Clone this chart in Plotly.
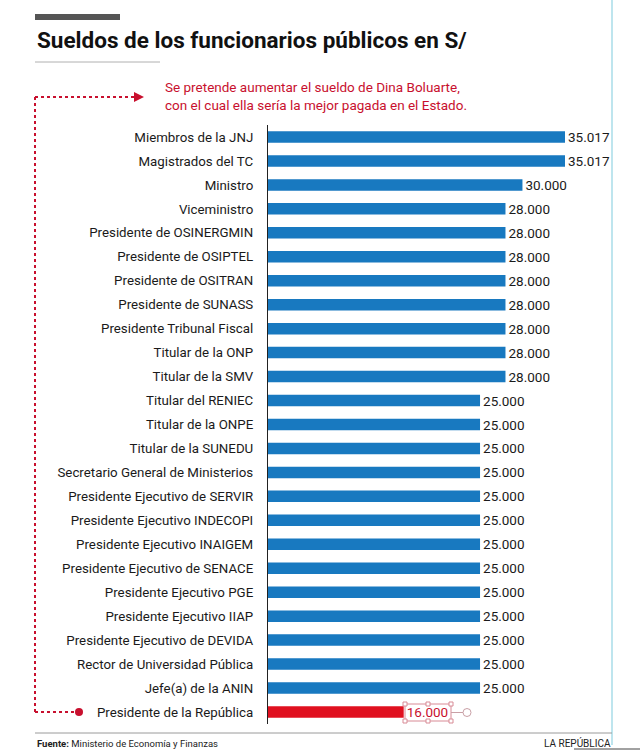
import plotly.graph_objects as go

categories = [
    "Miembros de la JNJ", "Magistrados del TC", "Ministro", "Viceministro",
    "Presidente de OSINERGMIN", "Presidente de OSIPTEL", "Presidente de OSITRAN",
    "Presidente de SUNASS", "Presidente Tribunal Fiscal", "Titular de la ONP",
    "Titular de la SMV", "Titular del RENIEC", "Titular de la ONPE",
    "Titular de la SUNEDU", "Secretario General de Ministerios",
    "Presidente Ejecutivo de SERVIR", "Presidente Ejecutivo INDECOPI",
    "Presidente Ejecutivo INAIGEM", "Presidente Ejecutivo de SENACE",
    "Presidente Ejecutivo PGE", "Presidente Ejecutivo IIAP",
    "Presidente Ejecutivo de DEVIDA", "Rector de Universidad Pública",
    "Jefe(a) de la ANIN", "Presidente de la República",
]
sueldos = [35017, 35017, 30000, 28000, 28000, 28000, 28000, 28000, 28000, 28000,
           28000, 25000, 25000, 25000, 25000, 25000, 25000, 25000, 25000, 25000,
           25000, 25000, 25000, 25000, 16000]

BLUE = "#1879c0"
RED = "#e0101f"
ANN_RED = "#c8102e"

n = len(categories)
colors = [BLUE] * (n - 1) + [RED]
text_colors = ["#1a1a1a"] * (n - 1) + [ANN_RED]

W, H = 640, 750
def px(x): return x / W
def py(y): return 1 - y / H

AX_L, AX_R = 268, 612
ROW0, ROWN = 137, 712
step = (ROWN - ROW0) / (n - 1)
top = ROW0 - step / 2
bot = ROWN + step / 2

fig = go.Figure(go.Bar(
    x=sueldos, y=list(range(n)), orientation="h",
    marker=dict(color=colors, line=dict(width=0)),
    width=0.48,
    texttemplate="%{x:,}", textposition="outside", constraintext="none",
    textfont=dict(size=13.5, color=text_colors, family="Roboto"),
    cliponaxis=False, hoverinfo="skip",
))

xmax = 35017 * (AX_R - AX_L) / (565 - AX_L)

fig.update_layout(
    width=W, height=H, margin=dict(l=0, r=0, t=0, b=0),
    paper_bgcolor="white", plot_bgcolor="white",
    separators=",.", showlegend=False,
    font=dict(family="Roboto", color="#1a1a1a"),
    xaxis=dict(domain=[px(AX_L), px(AX_R)], range=[0, xmax], visible=False),
    yaxis=dict(domain=[py(bot), py(top)], range=[n - 0.5, -0.5],
               tickmode="array", tickvals=list(range(n)), ticktext=categories,
               tickfont=dict(size=13.3, color="#1a1a1a", family="Roboto"),
               ticks="", ticklabelstandoff=11, showgrid=False, zeroline=False,
               showline=True, linecolor="#222", linewidth=1.2),
)

shapes = []
# top grey bar
shapes.append(dict(type="rect", xref="paper", yref="paper", x0=px(35), x1=px(120),
                   y0=py(20), y1=py(14), fillcolor="#555555", line=dict(width=0)))
# thin grey line under title
shapes.append(dict(type="line", xref="paper", yref="paper", x0=px(35), x1=px(160),
                   y0=py(62), y1=py(62), line=dict(color="#b0b0b0", width=1)))
# cyan right line
shapes.append(dict(type="line", xref="paper", yref="paper", x0=px(612), x1=px(612),
                   y0=py(0), y1=py(745), line=dict(color="#a9dce8", width=1.5)))
# bottom line
shapes.append(dict(type="line", xref="paper", yref="paper", x0=px(35), x1=px(612),
                   y0=py(733), y1=py(733), line=dict(color="#9a9a9a", width=1)))
# under "LA REPÚBLICA"
shapes.append(dict(type="line", xref="paper", yref="paper", x0=px(574), x1=px(640),
                   y0=py(749), y1=py(749), line=dict(color="#444", width=1)))
# red dotted connector
dot = dict(color=ANN_RED, width=2, dash="dot")
shapes.append(dict(type="line", xref="paper", yref="paper", x0=px(35), x1=px(134),
                   y0=py(97), y1=py(97), line=dot))
shapes.append(dict(type="line", xref="paper", yref="paper", x0=px(35), x1=px(35),
                   y0=py(97), y1=py(712), line=dot))
shapes.append(dict(type="line", xref="paper", yref="paper", x0=px(35), x1=px(76),
                   y0=py(712), y1=py(712), line=dot))
shapes.append(dict(type="path", xref="paper", yref="paper",
                   path=f"M {px(134)} {py(92)} L {px(144)} {py(97)} L {px(134)} {py(102)} Z",
                   fillcolor=ANN_RED, line=dict(width=0)))
shapes.append(dict(type="circle", xref="paper", yref="paper", x0=px(75), x1=px(83),
                   y0=py(708), y1=py(716), fillcolor=ANN_RED, line=dict(width=0)))
# selection box around 16.000 label
bx0, bx1 = 405, 451
shapes.append(dict(type="rect", xref="paper", yref="paper", x0=px(bx0), x1=px(bx1),
                   y0=py(721), y1=py(704), line=dict(color="#d88a95", width=1)))
for hx in (bx0, (bx0 + bx1) / 2, bx1):
    for hy in (704, 721):
        shapes.append(dict(type="rect", xref="paper", yref="paper", x0=px(hx - 2), x1=px(hx + 2),
                           y0=py(hy + 2), y1=py(hy - 2), fillcolor="white",
                           line=dict(color="#d88a95", width=1)))
shapes.append(dict(type="line", xref="paper", yref="paper", x0=px(bx1), x1=px(bx1 + 12),
                   y0=py(712.5), y1=py(712.5), line=dict(color="#c9a0a6", width=1)))
shapes.append(dict(type="circle", xref="paper", yref="paper", x0=px(bx1 + 12), x1=px(bx1 + 20),
                   y0=py(716.5), y1=py(708.5), fillcolor="white",
                   line=dict(color="#c9a0a6", width=1)))
fig.update_layout(shapes=shapes)

ann = []
ann.append(dict(text="<b>Sueldos de los funcionarios públicos en S/</b>",
                x=px(35), y=py(40), xref="paper", yref="paper",
                xanchor="left", yanchor="middle", showarrow=False,
                font=dict(size=22.5, color="#111", family="Roboto")))
ann.append(dict(text="Se pretende aumentar el sueldo de Dina Boluarte,<br>con el cual ella sería la mejor pagada en el Estado.",
                x=px(163), y=py(96), xref="paper", yref="paper",
                xanchor="left", yanchor="middle", showarrow=False, align="left",
                font=dict(size=13.5, color=ANN_RED, family="Roboto")))
ann.append(dict(text="<b>Fuente:</b> Ministerio de Economía y Finanzas",
                x=px(35), y=py(743), xref="paper", yref="paper",
                xanchor="left", yanchor="middle", showarrow=False,
                font=dict(size=9.5, color="#222", family="Roboto")))
ann.append(dict(text="LA REPÚBLICA",
                x=px(613), y=py(743), xref="paper", yref="paper",
                xanchor="right", yanchor="middle", showarrow=False,
                font=dict(size=10, color="#222", family="Roboto")))
fig.update_layout(annotations=ann)

fig.write_html("out.html", config={"displayModeBar": False},
               post_script="document.body.style.margin='0';document.body.style.padding='0';")
